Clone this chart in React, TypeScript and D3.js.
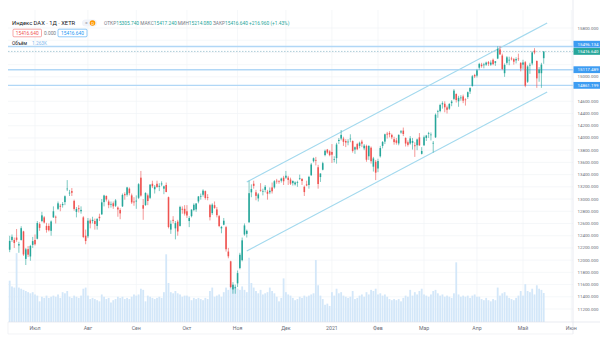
import React from "react";
import { scaleLinear } from "d3";

// daily bars, 16.06.2020 .. 14.05.2021, [open, high, low, close]
const candles: number[][] = [
  // Jun 2020
  [12170, 12398, 12130, 12315], [12330, 12420, 12300, 12382], [12330, 12370, 12200, 12281], [12370, 12510, 12300, 12331],
  [12240, 12300, 12120, 12262], [12330, 12555, 12320, 12523], [12470, 12480, 12070, 12093], [12020, 12200, 11920, 12177],
  [12180, 12230, 12050, 12089], [12060, 12250, 11990, 12232], [12250, 12380, 12200, 12311],
  // Jul
  [12330, 12420, 12240, 12260], [12350, 12640, 12340, 12608], [12590, 12620, 12480, 12528], [12640, 12790, 12620, 12733],
  [12700, 12720, 12600, 12616], [12560, 12610, 12450, 12494], [12560, 12600, 12470, 12489], [12480, 12650, 12400, 12633],
  [12700, 12880, 12690, 12800], [12710, 12730, 12600, 12697], [12840, 12960, 12820, 12930], [12890, 12920, 12800, 12874],
  [12900, 12950, 12860, 12919], [12950, 13060, 12900, 13046], [13170, 13310, 13130, 13171], [13100, 13150, 13050, 13104],
  [13130, 13180, 13050, 13103], [12970, 12990, 12810, 12838], [12790, 12870, 12700, 12838], [12850, 12900, 12780, 12835],
  [12800, 12880, 12760, 12822], [12700, 12720, 12360, 12379], [12400, 12500, 12260, 12313],
  // Aug
  [12390, 12690, 12360, 12646], [12650, 12680, 12520, 12600], [12640, 12710, 12600, 12660], [12640, 12680, 12500, 12591],
  [12560, 12690, 12500, 12674], [12710, 12760, 12640, 12687], [12750, 13000, 12740, 12946], [12950, 13070, 12880, 13058],
  [13050, 13060, 12960, 12993], [12960, 12990, 12850, 12901], [12920, 12960, 12860, 12920], [12930, 12960, 12840, 12881],
  [12890, 13000, 12870, 12977], [12860, 12880, 12710, 12830], [12820, 12850, 12670, 12765], [12880, 13090, 12870, 13067],
  [13080, 13110, 12990, 13062], [13070, 13200, 13040, 13190], [13170, 13190, 13060, 13096], [13060, 13090, 12920, 12945],
  [12960, 13030, 12890, 12945],
  // Sep
  [12960, 13060, 12840, 12974], [13020, 13260, 13000, 13243], [13350, 13460, 13040, 13057], [12900, 13000, 12660, 12842],
  [12900, 13110, 12890, 13100], [13060, 13090, 12900, 12968], [13020, 13240, 13000, 13237], [13250, 13300, 13180, 13209],
  [13160, 13230, 13090, 13202], [13250, 13300, 13190, 13194], [13200, 13260, 13130, 13217], [13240, 13290, 13210, 13255],
  [13170, 13220, 13080, 13208], [13230, 13270, 13110, 13116], [13030, 13040, 12520, 12542], [12500, 12650, 12430, 12595],
  [12660, 12720, 12600, 12643], [12520, 12640, 12340, 12606], [12630, 12660, 12400, 12469], [12560, 12890, 12550, 12871],
  [12840, 12880, 12760, 12826], [12840, 12900, 12730, 12761],
  // Oct
  [12800, 12900, 12690, 12731], [12640, 12720, 12540, 12689], [12720, 12830, 12700, 12828], [12820, 12930, 12800, 12906],
  [12830, 12930, 12790, 12928], [12960, 13050, 12930, 13042], [13040, 13090, 12990, 13051], [13070, 13160, 13040, 13138],
  [13130, 13140, 12990, 13018], [13030, 13080, 12980, 13028], [12900, 12920, 12650, 12703], [12770, 12930, 12740, 12908],
  [12900, 12960, 12840, 12854], [12830, 12870, 12700, 12736], [12720, 12740, 12540, 12558], [12520, 12560, 12440, 12543],
  [12580, 12690, 12570, 12645], [12540, 12560, 12140, 12178], [12140, 12200, 12030, 12063], [11980, 11990, 11540, 11560],
  [11520, 11640, 11450, 11598], [11540, 11600, 11450, 11556],
  // Nov
  [11620, 11830, 11560, 11788], [11870, 12120, 11850, 12088], [12000, 12370, 11980, 12324], [12420, 12600, 12400, 12568],
  [12430, 12500, 12370, 12480], [12620, 13300, 12610, 13096], [13110, 13240, 13030, 13163], [13250, 13300, 13170, 13216],
  [13110, 13150, 12980, 13052], [13010, 13100, 12960, 13076], [13150, 13260, 13120, 13138], [13130, 13170, 13060, 13133],
  [13150, 13230, 13110, 13201], [13120, 13150, 12990, 13086], [13110, 13190, 13080, 13137], [13190, 13270, 13090, 13127],
  [13190, 13310, 13170, 13292], [13300, 13330, 13250, 13289], [13290, 13310, 13250, 13286], [13300, 13350, 13270, 13335],
  [13350, 13380, 13230, 13291],
  // Dec
  [13350, 13460, 13330, 13382], [13350, 13380, 13230, 13313], [13320, 13350, 13230, 13252], [13260, 13300, 13220, 13298],
  [13240, 13290, 13220, 13271], [13270, 13300, 13200, 13278], [13340, 13400, 13310, 13340], [13330, 13340, 13230, 13295],
  [13200, 13220, 13050, 13114], [13240, 13300, 13210, 13223], [13230, 13380, 13170, 13363], [13390, 13590, 13380, 13565],
  [13620, 13680, 13600, 13668], [13640, 13690, 13550, 13630], [13520, 13560, 13170, 13246], [13360, 13420, 13280, 13418],
  [13480, 13610, 13470, 13587], [13720, 13810, 13700, 13790], [13810, 13820, 13740, 13761], [13780, 13800, 13700, 13719],
  // Jan 2021
  [13770, 13900, 13590, 13726], [13640, 13700, 13600, 13651], [13670, 13920, 13580, 13892], [13950, 14000, 13900, 13968],
  [13990, 14130, 13960, 14050], [13990, 14020, 13870, 13937], [13950, 13980, 13850, 13925], [13940, 13980, 13880, 13940],
  [13980, 14060, 13930, 13989], [13950, 13960, 13760, 13788], [13810, 13860, 13740, 13848], [13900, 13920, 13800, 13815],
  [13870, 13940, 13830, 13922], [13940, 13970, 13850, 13906], [13830, 13900, 13800, 13874], [13870, 13890, 13610, 13643],
  [13700, 13880, 13640, 13870], [13840, 13860, 13580, 13620], [13530, 13690, 13450, 13665], [13610, 13640, 13310, 13432],
  // Feb
  [13500, 13660, 13440, 13622], [13700, 13870, 13680, 13835], [13870, 13950, 13830, 13933], [13940, 14070, 13900, 14060],
  [14070, 14100, 13990, 14056], [14080, 14110, 14010, 14059], [14050, 14070, 13980, 14011], [13980, 14020, 13890, 13932],
  [13960, 14000, 13890, 13921], [13910, 14060, 13880, 14050], [14090, 14130, 14070, 14109], [14120, 14170, 14030, 14065],
  [14000, 14010, 13860, 13909], [13930, 13960, 13860, 13887], [13910, 14030, 13890, 13993], [13920, 14000, 13810, 13950],
  [13880, 13930, 13690, 13865], [13880, 13990, 13800, 13976], [14010, 14080, 13870, 13879], [13740, 13850, 13730, 13786],
  // Mar
  [13880, 14040, 13870, 14012], [14000, 14050, 13950, 14039], [14080, 14100, 14000, 14080], [14050, 14090, 13960, 14056],
  [13920, 13950, 13760, 13920], [14010, 14400, 14000, 14380], [14430, 14460, 14330, 14437], [14440, 14560, 14420, 14540],
  [14550, 14600, 14480, 14569], [14560, 14600, 14420, 14502], [14500, 14530, 14400, 14461], [14480, 14570, 14460, 14557],
  [14570, 14620, 14520, 14596], [14640, 14800, 14620, 14775], [14720, 14730, 14580, 14621], [14600, 14690, 14510, 14657],
  [14650, 14700, 14610, 14662], [14680, 14710, 14570, 14610], [14630, 14650, 14530, 14621], [14670, 14760, 14640, 14749],
  [14760, 14830, 14720, 14817], [14850, 15030, 14840, 15009], [15030, 15050, 14980, 15008],
  // Apr
  [15020, 15130, 14990, 15107], [15150, 15230, 15120, 15212], [15200, 15230, 15150, 15176], [15190, 15230, 15140, 15203],
  [15200, 15250, 15180, 15234], [15240, 15260, 15180, 15215], [15200, 15270, 15180, 15234], [15280, 15300, 15190, 15209],
  [15230, 15260, 15180, 15255], [15300, 15500, 15290, 15460], [15450, 15500, 15360, 15368], [15350, 15380, 15110, 15129],
  [15060, 15220, 15000, 15195], [15230, 15340, 15200, 15320], [15270, 15330, 15190, 15280], [15300, 15330, 15270, 15296],
  [15290, 15310, 15200, 15249], [15270, 15320, 15220, 15292], [15300, 15380, 15260, 15290], [15230, 15240, 15090, 15136],
  // May
  [15200, 15280, 15130, 15236], [15240, 15260, 14830, 14856], [14920, 15190, 14900, 15170], [15190, 15230, 15050, 15197],
  [15220, 15420, 15190, 15400], [15430, 15470, 15370, 15400], [15260, 15270, 14820, 14976], [15060, 15160, 14920, 15120],
  [15060, 15230, 14820, 15200], [15305.74, 15417.24, 15214.08, 15416.64],
];

const volumes: number[] = [
  1800, 1550, 1500, 3000, 1500, 1450, 1400, 1350, 1300, 1250, 1300,
  1200, 1150, 900, 1100, 1050, 1150, 1050, 1100, 1150, 1100, 1200, 1050, 1300, 1250, 1350, 1100, 1050, 1150, 1100, 1050, 1150, 1450, 1500,
  1150, 1000, 1050, 1000, 950, 900, 1200, 1100, 1000, 1050, 850, 950, 1000, 1100, 1050, 1100, 1000, 1050, 1000, 1100, 1200,
  1150, 1200, 1450, 1400, 900, 1150, 1100, 1050, 1000, 1050, 1100, 1050, 1300, 2950, 1700, 1300, 1250, 1350, 1250, 1200, 1100, 1150,
  1150, 1100, 950, 1050, 1000, 1050, 1000, 950, 1050, 1000, 1350, 1500, 1100, 1150, 1200, 1100, 1300, 1500, 1400, 1650, 1600, 1550,
  1450, 1400, 1550, 1400, 1300, 2800, 1700, 1500, 1350, 1250, 1400, 1200, 1250, 1300, 1500, 1350, 1250, 1100, 900, 1050, 1900,
  1300, 1200, 1150, 1050, 950, 1000, 1100, 1050, 1150, 1100, 1150, 1200, 1250, 2700, 1600, 1150, 1000, 750, 800, 700,
  1300, 1150, 1450, 1250, 1300, 1150, 1100, 1050, 1100, 1350, 1000, 1050, 1150, 1200, 1100, 1300, 1200, 1400, 1350, 1450,
  1200, 1250, 1150, 1200, 1100, 1000, 950, 1000, 950, 1000, 900, 1050, 1150, 1100, 1400, 1150, 1300, 1200, 1350, 1450,
  1200, 1150, 1100, 1200, 1350, 1400, 1250, 1150, 1200, 1100, 1150, 1100, 1050, 1250, 2600, 1200, 1100, 1150, 1100, 1150, 1050, 1150, 1200,
  1100, 1100, 1000, 950, 1050, 950, 900, 1000, 950, 1500, 1150, 1250, 1300, 1150, 1050, 1000, 950, 1050, 1150, 1350,
  1150, 1650, 1350, 1300, 1450, 1200, 1600, 1450, 1400, 1263,
];

// first trading bar of each month (index into candles; Июн is past the last bar)
const monthLabels = ["Июл", "Авг", "Сен", "Окт", "Ноя", "Дек", "2021", "Фев", "Мар", "Апр", "Май", "Июн"];
const monthBars = [11, 34, 55, 77, 99, 120, 140, 160, 180, 203, 223, 244];

const priceTicks = [
  11200, 11400, 11600, 11800, 12000, 12200, 12400, 12600, 12800, 13000, 13200, 13400,
  13600, 13800, 14000, 14200, 14400, 14600, 14800, 15000, 15200, 15400, 15600, 15800,
];

// horizontal levels drawn by the user
const levels = [15496.134, 15117.489, 14861.199];
// parallel channel: [bar, price] at start and end
const channelBars = [103, 233.5];
const channelUpper = [13280, 15882];
const channelLower = [12150, 14753];

const lastClose = 15416.64;
const ohlcHeader = [
  ["ОТКР", "15305.740"], ["МАКС", "15417.240"], ["МИН", "15214.080"], ["ЗАКР", "15416.640"],
];
const changeText = "+216.960 (+1.43%)";
const volumeText = "1.263K";

const UP = "#26a69a";
const DOWN = "#ef5350";
const FONT = "Roboto, 'Noto Sans', sans-serif";

const LEFT = 8, AXIS_X = 573, PANE_TOP = 10, PANE_BOTTOM = 322, TIME_BOTTOM = 334;

export default function App() {
  const x = scaleLinear().domain([11, 223]).range([35, 523]);
  const y = scaleLinear().domain([11200, 15800]).range([309, 28]);
  const yVol = scaleLinear().domain([0, 3050]).range([PANE_BOTTOM, PANE_BOTTOM - 70]);
  const step = x(1) - x(0);
  const bodyW = step * 0.68;
  const volW = step * 0.78;

  // price axis labels, pushed apart where they collide
  const tags = [
    ...levels.map((v) => ({ v, y: y(v), fill: "#3d9cf2" })),
    { v: lastClose, y: y(lastClose), fill: UP, last: true },
  ].sort((a, b) => a.y - b.y);
  for (let i = tags.length - 2; i >= 0; i--) {
    if (tags[i + 1].y - tags[i].y < 7.2) tags[i].y = tags[i + 1].y - 7.2;
  }

  return (
    <svg width={600} height={352} style={{ position: "absolute", left: 0, top: 0, background: "#fff" }} fontFamily={FONT}>
      <rect width={600} height={352} fill="#fff" />

      {/* grid */}
      {priceTicks.map((t) => (
        <line key={"h" + t} x1={LEFT} x2={AXIS_X} y1={y(t)} y2={y(t)} stroke="#f1f3f7" strokeWidth={0.7} />
      ))}
      {monthBars.map((b) => (
        <line key={"v" + b} x1={x(b)} x2={x(b)} y1={PANE_TOP} y2={PANE_BOTTOM} stroke="#f1f3f7" strokeWidth={0.7} />
      ))}

      {/* volume */}
      {volumes.map((v, i) => (
        <rect key={"vol" + i} x={x(i) - volW / 2} width={volW} y={yVol(v)} height={PANE_BOTTOM - yVol(v)} fill="#d3e7f9" />
      ))}

      {/* horizontal levels */}
      {levels.map((v) => (
        <line key={"lv" + v} x1={LEFT} x2={AXIS_X} y1={y(v)} y2={y(v)} stroke="#b1d7f6" strokeWidth={1.4} />
      ))}
      <line x1={LEFT} x2={AXIS_X} y1={y(lastClose)} y2={y(lastClose)} stroke="#8db9c9" strokeWidth={0.7} strokeDasharray="1.5 1.5" />

      {/* channel */}
      <line x1={x(channelBars[0])} y1={y(channelUpper[0])} x2={x(channelBars[1])} y2={y(channelUpper[1])} stroke="#a3d9ee" strokeWidth={1.2} />
      <line x1={x(channelBars[0])} y1={y(channelLower[0])} x2={x(channelBars[1])} y2={y(channelLower[1])} stroke="#a3d9ee" strokeWidth={1.2} />

      {/* candles */}
      {candles.map(([o, h, l, c], i) => {
        const col = c >= o ? UP : DOWN;
        const top = y(Math.max(o, c));
        const bh = Math.max(0.7, Math.abs(y(o) - y(c)));
        return (
          <g key={"c" + i}>
            <line x1={x(i)} x2={x(i)} y1={y(h)} y2={y(l)} stroke={col} strokeWidth={0.6} />
            <rect x={x(i) - bodyW / 2} width={bodyW} y={top} height={bh} fill={col} />
          </g>
        );
      })}

      {/* header */}
      <text x={12} y={25} fontSize={5.8} fill="#131722">Индекс DAX · 1Д · XETR</text>
      <rect x={82} y={19.5} width={15} height={7} rx={3.5} fill="#f0f3fa" />
      <text x={85} y={25} fontSize={5} fill="#9598a1">=</text>
      <circle cx={92.5} cy={23} r={2.8} fill="#ff9800" />
      <text x={92.5} y={24.8} fontSize={4.2} fill="#fff" textAnchor="middle">D</text>
      <text x={104} y={24.8} fontSize={4.8}>
        {ohlcHeader.map(([k, v]) => (
          <React.Fragment key={k}>
            <tspan fill="#787b86">{k}</tspan>
            <tspan fill={UP}>{v} </tspan>
          </React.Fragment>
        ))}
        <tspan fill={UP}>{changeText}</tspan>
      </text>
      <rect x={13} y={29.2} width={28.5} height={7.6} rx={1} fill="#fff" stroke={DOWN} strokeWidth={0.5} />
      <text x={27.2} y={34.7} fontSize={4.8} fill={DOWN} textAnchor="middle">15416.640</text>
      <text x={44} y={34.7} fontSize={4.8} fill="#787b86">0.000</text>
      <rect x={58} y={29.2} width={29} height={7.6} rx={1} fill="#fff" stroke="#2196f3" strokeWidth={0.5} />
      <text x={72.5} y={34.7} fontSize={4.8} fill="#2196f3" textAnchor="middle">15416.640</text>
      <text x={12} y={44.5} fontSize={4.8} fill="#131722">Объём</text>
      <text x={32} y={44.5} fontSize={4.8} fill="#7fb8ec">{volumeText}</text>

      {/* price axis */}
      <line x1={AXIS_X} x2={AXIS_X} y1={0} y2={TIME_BOTTOM} stroke="#e0e3eb" strokeWidth={0.7} />
      {priceTicks
        .filter((t) => tags.every((g) => Math.abs(g.y - y(t)) > 5.5))
        .map((t) => (
          <text key={"pt" + t} x={577.5} y={y(t) + 1.5} fontSize={4.4} fill="#6a6d78">{t.toFixed(3)}</text>
        ))}
      {tags.map((g) => (
        <g key={"tag" + g.v}>
          <rect x={AXIS_X + 0.5} y={g.y - 3.4} width={27} height={6.8} fill={g.fill} />
          <text x={577.5} y={g.y + 1.5} fontSize={4.4} fill="#fff">{g.v.toFixed(3)}</text>
        </g>
      ))}

      {/* time axis */}
      <line x1={LEFT} x2={600} y1={PANE_BOTTOM} y2={PANE_BOTTOM} stroke="#e0e3eb" strokeWidth={0.7} />
      <line x1={LEFT} x2={AXIS_X} y1={TIME_BOTTOM} y2={TIME_BOTTOM} stroke="#eceef2" strokeWidth={0.7} />
      <line x1={LEFT} x2={LEFT} y1={PANE_BOTTOM} y2={TIME_BOTTOM} stroke="#eceef2" strokeWidth={0.7} />
      {monthLabels.map((m, i) => (
        <text key={m} x={x(monthBars[i])} y={329.5} fontSize={5.2} fill="#6a6d78" textAnchor="middle">{m}</text>
      ))}
    </svg>
  );
}
